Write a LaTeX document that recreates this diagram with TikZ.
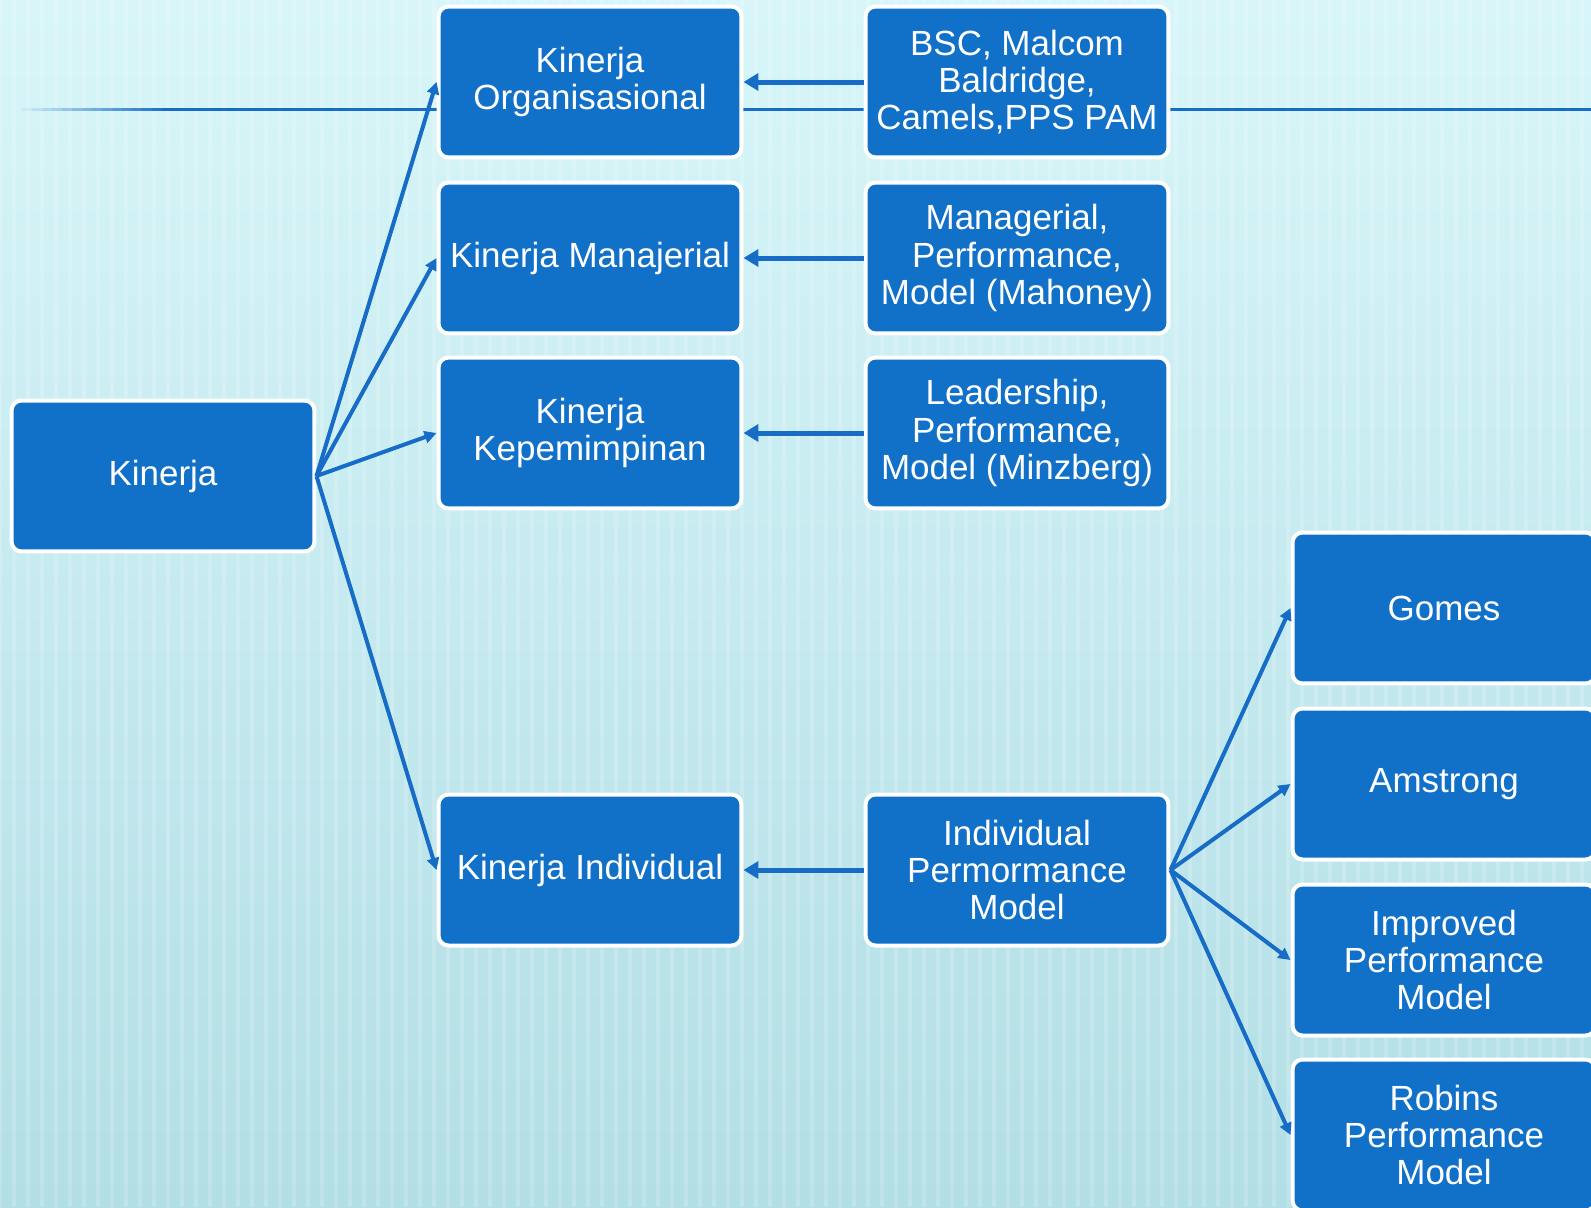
\documentclass[tikz,border=0pt]{standalone}
\usepackage{fontspec}
\setmainfont{Liberation Sans}
\usetikzlibrary{arrows.meta}

\definecolor{boxblue}{HTML}{1170C8}
\definecolor{linkblue}{HTML}{166CC6}
\definecolor{bgtop}{HTML}{D8F6F9}
\definecolor{bgbottom}{HTML}{B2DEE5}

\tikzset{
  box/.style={draw=white, line width=0.08cm, fill=boxblue, rounded corners=0.2cm,
    text=white, minimum width=6.06cm, minimum height=3.02cm, inner sep=0pt,
    align=center, font=\fontsize{19.9}{21.3}\selectfont},
  feed/.style={linkblue, line width=0.1cm, -{Triangle[length=0.3cm,width=0.34cm]}},
  branch/.style={linkblue, line width=0.08cm, -{Triangle[length=0.24cm,width=0.24cm]}}
}

\begin{document}
\begin{tikzpicture}[x=0.02cm, y=-0.02cm]
	\clip (0,0) rectangle (1591,1207);
	% background
	\shade[top color=bgtop, bottom color=bgbottom] (0,0) rectangle (1591,1207);
	\foreach \x in {0,14,...,1591}
		\draw[white, opacity=0.18, line width=0.08cm] (\x,0) -- (\x,1207);
	% rule behind the top row, fading out to the left
	\foreach \i in {0,...,14}
		\fill[linkblue, opacity=\i/15] (12+10*\i,107.5) rectangle (22+10*\i,110.5);
	\fill[linkblue] (162,107.5) rectangle (1591,110.5);

	% left and middle column
	\node[box] (kinerja) at (163,476) {Kinerja};
	\node[box] (org) at (590,82) {Kinerja\\Organisasional};
	\node[box] (man) at (590,258) {Kinerja Manajerial};
	\node[box] (kep) at (590,433) {Kinerja\\Kepemimpinan};
	\node[box] (ind) at (590,870) {Kinerja Individual};

	% models
	\node[box] (bsc) at (1017,82) {BSC, Malcom\\Baldridge,\\Camels,PPS PAM};
	\node[box] (mahoney) at (1017,258) {Managerial,\\Performance,\\Model (Mahoney)};
	\node[box] (minzberg) at (1017,433) {Leadership,\\Performance,\\Model (Minzberg)};
	\node[box] (ipm) at (1017,870) {Individual\\Permormance\\Model};

	\node[box] (gomes) at (1444,608) {Gomes};
	\node[box] (amstrong) at (1444,784) {Amstrong};
	\node[box] (improved) at (1444,960) {Improved\\Performance\\Model};
	\node[box] (robins) at (1444,1135) {Robins\\Performance\\Model};

	% connectors
	\foreach \t in {org,man,kep,ind}
		\draw[branch] (kinerja.east) -- (\t.west);
	\foreach \s/\t in {bsc/org,mahoney/man,minzberg/kep,ipm/ind}
		\draw[feed] (\s.west) -- (\t.east);
	\foreach \t in {gomes,amstrong,improved,robins}
		\draw[branch] (ipm.east) -- (\t.west);
\end{tikzpicture}
\end{document}
